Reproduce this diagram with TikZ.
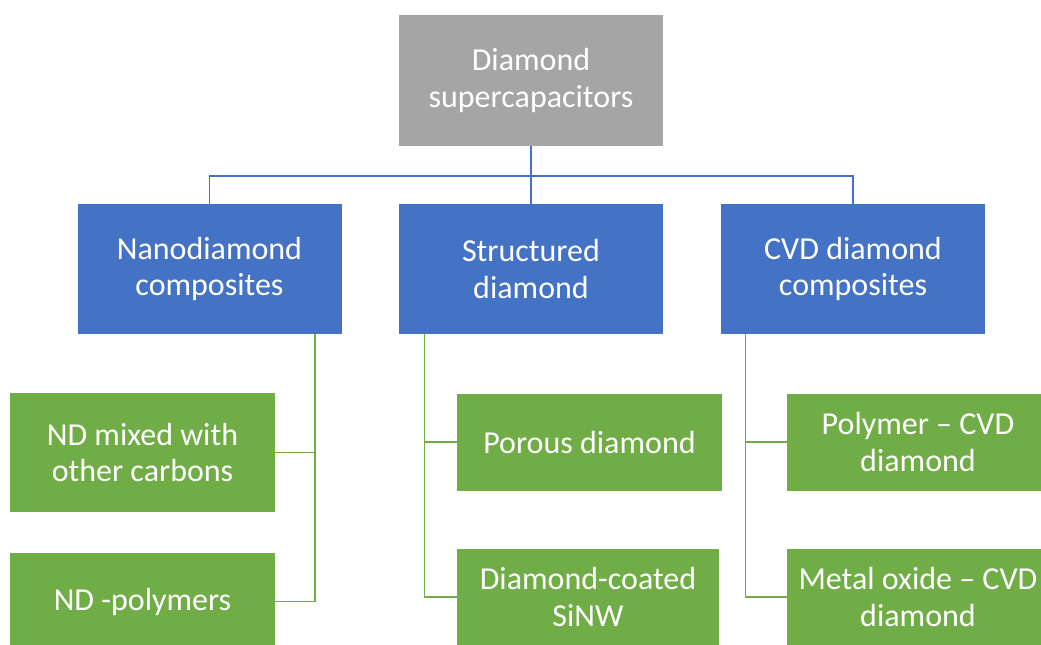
\documentclass[tikz,border=0pt]{standalone}
\usepackage{fontspec}
\setmainfont{Carlito}
\usepackage{tikz}
\definecolor{topgray}{HTML}{A5A5A5}
\definecolor{midblue}{HTML}{4472C4}
\definecolor{leafgreen}{HTML}{70AD47}
\tikzset{
  box/.style={rectangle, inner sep=0pt, text=white, align=center,
    font=\fontsize{24}{27.5}\selectfont},
  topbox/.style={box, fill=topgray, minimum width=198pt, minimum height=98.25pt},
  catbox/.style={box, fill=midblue, minimum width=198pt, minimum height=97.5pt},
  leafbox/.style={box, fill=leafgreen, minimum width=198pt, minimum height=72.75pt},
  bluelink/.style={draw=midblue, line width=1.1pt},
  greenlink/.style={draw=leafgreen, line width=1.1pt}
}
\begin{document}
\begin{tikzpicture}[x=0.75pt,y=0.75pt,yscale=-1,xscale=1]
\useasboundingbox (0,0) rectangle (1041,644);
\clip (0,0) rectangle (1041,644);

%Top
\node [topbox] (top) at (531,80.5) {Diamond\\supercapacitors};

%Categories
\node [catbox] (ndc) at (209.5,269) {Nanodiamond\\composites};
\node [catbox] (sd) at (531,269) {Structured\\diamond};
\node [catbox] (cvd) at (853,269) {CVD diamond\\composites};

%Leaves
\node [leafbox, minimum width=198.75pt, minimum height=89.25pt] (ndmix) at (142.5,452.5) {ND mixed with\\other carbons};
\node [leafbox, minimum width=198.75pt] (ndpoly) at (142.5,601.5) {ND -polymers};
\node [leafbox, minimum width=198.75pt] (porous) at (589.5,442) {Porous diamond};
\node [leafbox, minimum width=196.5pt] (sinw) at (588,597) {Diamond-coated\\SiNW};
\node [leafbox, minimum width=196.5pt] (pcvd) at (918,442) {Polymer \textendash{} CVD\\diamond};
\node [leafbox, minimum width=196.5pt] (mcvd) at (918,597) {Metal oxide \textendash{} CVD\\diamond};

%Top connectors
\coordinate (hub) at (531,176);
\draw [bluelink] (top.south) -- (hub);
\draw [bluelink] (ndc.north) |- (hub);
\draw [bluelink] (cvd.north) |- (hub);
\draw [bluelink] (hub) -- (sd.north);

%Leaf connectors
\draw [greenlink] ([xshift=79.1pt]ndc.south) |- (ndmix.east);
\draw [greenlink] ([xshift=79.1pt]ndc.south) |- (ndpoly.east);
\draw [greenlink] ([xshift=19.5pt]sd.south west) |- (porous.west);
\draw [greenlink] ([xshift=19.5pt]sd.south west) |- (sinw.west);
\draw [greenlink] ([xshift=18.75pt]cvd.south west) |- (pcvd.west);
\draw [greenlink] ([xshift=18.75pt]cvd.south west) |- (mcvd.west);

\end{tikzpicture}
\end{document}
